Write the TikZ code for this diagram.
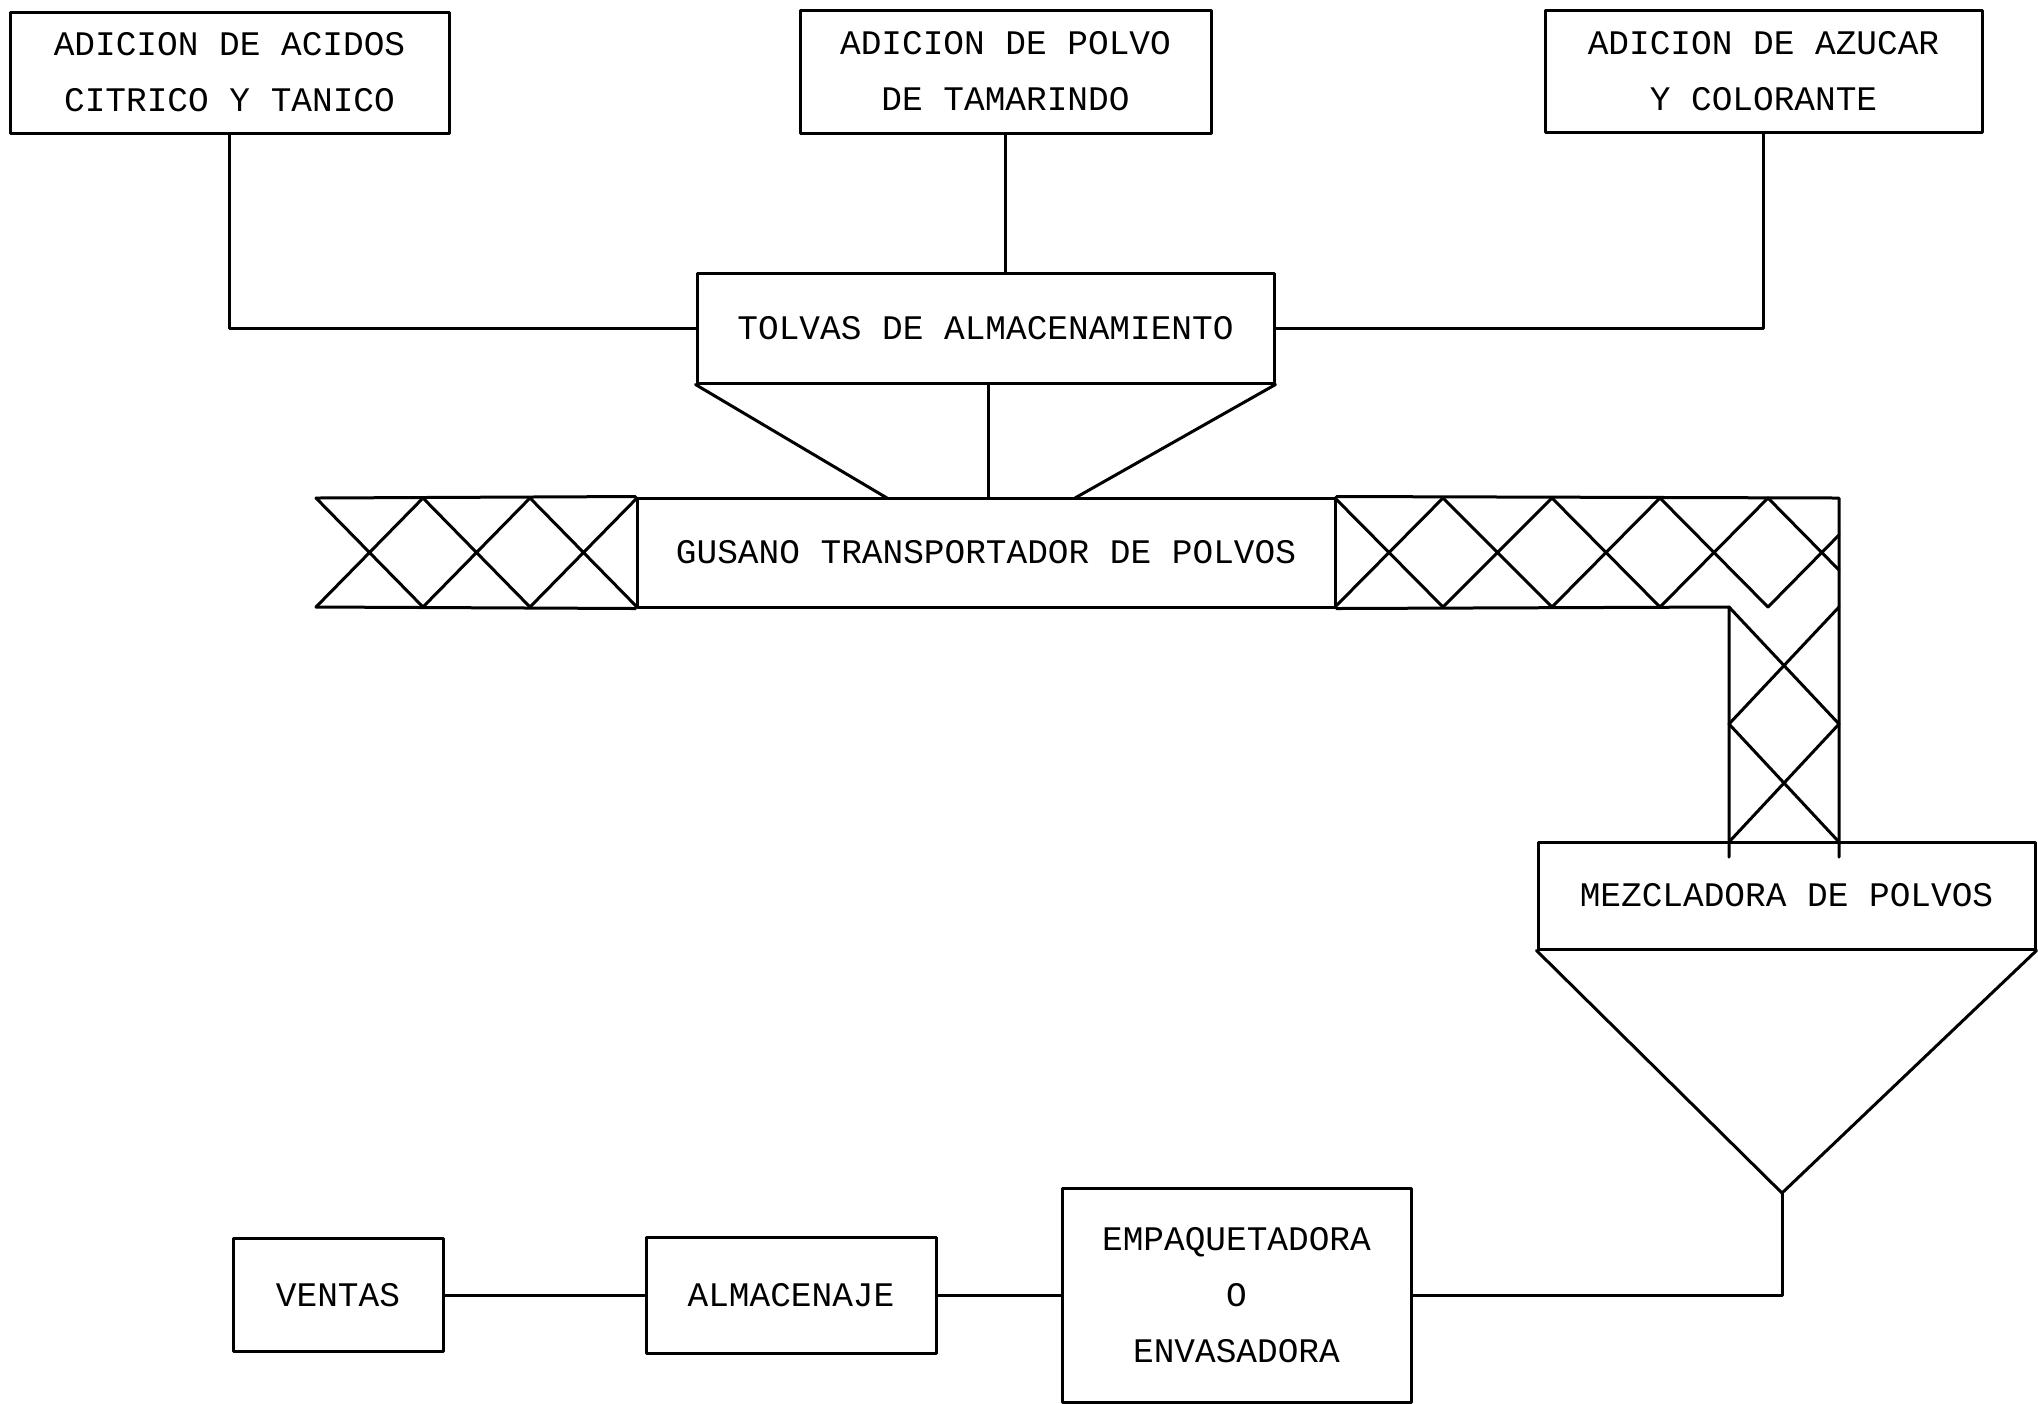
\documentclass[tikz,border=0pt]{standalone}
\usepackage{fontspec}
\setmonofont{Liberation Mono}
\newcommand{\lblfont}{\ttfamily\fontsize{9.8pt}{15.9pt}\selectfont}
\begin{document}
\begin{tikzpicture}[x=0.1mm,y=-0.1mm,
  ln/.style={line width=0.3mm, line cap=round, line join=round},
  boxnode/.style={draw, ln, inner sep=0pt, align=center, font=\lblfont}]
\useasboundingbox (0,0) rectangle (2038,1403);
\clip (0,0) rectangle (2038,1403);

% boxes
\node[boxnode, minimum width=43.9mm, minimum height=12.1mm] (b1) at (229.5,72.5) {ADICION DE ACIDOS\\CITRICO Y TANICO};
\node[boxnode, minimum width=41.1mm, minimum height=12.3mm] (b2) at (1005.5,71.5) {ADICION DE POLVO\\DE TAMARINDO};
\node[boxnode, minimum width=43.7mm, minimum height=12.2mm] (b3) at (1763.5,71) {ADICION DE AZUCAR\\Y COLORANTE};
\node[boxnode, minimum width=57.7mm, minimum height=11mm] (tolvas) at (985.5,328) {TOLVAS DE ALMACENAMIENTO};
\node[boxnode, minimum width=69.8mm, minimum height=10.9mm] (gusano) at (986,552.5) {GUSANO TRANSPORTADOR DE POLVOS};
\node[boxnode, minimum width=49.7mm, minimum height=10.7mm] (mezcla) at (1786.5,895.5) {MEZCLADORA DE POLVOS};
\node[boxnode, minimum width=34.9mm, minimum height=21.4mm] (empaq) at (1236.5,1295) {EMPAQUETADORA\\O\\ENVASADORA};
\node[boxnode, minimum width=29mm, minimum height=11.6mm] (almac) at (791,1295) {ALMACENAJE};
\node[boxnode, minimum width=21mm, minimum height=11.3mm] (ventas) at (338,1295) {VENTAS};

% feeds into storage hoppers
\draw[ln] (b1.south) |- (tolvas.west);
\draw[ln] (b2.south) -- (b2.south |- tolvas.north);
\draw[ln] (b3.south) |- (tolvas.east);

% hopper outlet
\coordinate (hl) at (887,498);
\coordinate (hr) at (1075,498);
\coordinate (hm) at (988,498);
\draw[ln] (tolvas.south west) -- (hl);
\draw[ln] (tolvas.south east) -- (hr);
\draw[ln] (tolvas.south -| hm) -- (hm);

% screw conveyor outline
\draw[ln] (gusano.north west) -- (316,498);
\draw[ln] (gusano.south west) -- (316,607);
\draw[ln] (gusano.north east) -- (1839,498) -- (1839,857);
\draw[ln] (gusano.south east) -- (1729,607) -- (1729,857);

% hatching left
\foreach \a/\b in {316/423, 423/530, 530/637}
  \draw[ln] (\a,498) -- (\b,607) (\a,607) -- (\b,498);
% hatching right
\foreach \a/\b in {1335/1443, 1443/1552, 1552/1660, 1660/1768}
  \draw[ln] (\a,498) -- (\b,607) (\a,607) -- (\b,498);
\draw[ln] (1768,498) -- (1839,570) (1768,607) -- (1839,535);
% hatching vertical
\draw[ln] (1729,607) -- (1839,724) (1839,607) -- (1729,724);
\draw[ln] (1729,724) -- (1839,842) (1839,724) -- (1729,842);

% mixer funnel and outlet
\coordinate (apex) at (1782,1193);
\draw[ln] (mezcla.south west) -- (apex) -- (mezcla.south east);
\draw[ln] (apex) |- (empaq.east);
\draw[ln] (empaq.west) -- (almac.east);
\draw[ln] (almac.west) -- (ventas.east);
\end{tikzpicture}
\end{document}
